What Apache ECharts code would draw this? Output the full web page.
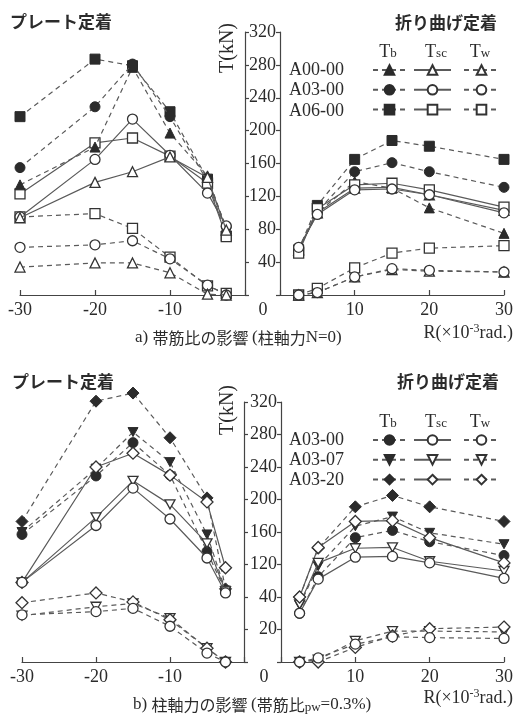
<!DOCTYPE html>
<html>
<head>
<meta charset="utf-8">
<script src="https://cdn.jsdelivr.net/npm/echarts@6/dist/echarts.min.js"></script>
<style>
  html, body { margin: 0; padding: 0; background: #fff; }
  #chart { width: 516px; height: 716px; }
</style>
</head>
<body>
<div id="chart"></div>
<script>
// R (x10^-3 rad.) for plate side (left) and bent side (right)
const rPlate = [-30, -20, -15, -10, -5, -2.5]
const rBent = [2.5, 5, 10, 15, 20, 30]

// tick labels as printed
const aYTicks = ['', '40', '80', '120', '160', '200', '240', '280', '320']
const bYTicks = ['', '20', '40', '120', '160', '200', '240', '280', '320']
const legendA = ['A00-00', 'A03-00', 'A06-00']
const legendB = ['A03-00', 'A03-07', 'A03-20']

// a) 帯筋比の影響 : plate side
const aP_A00_Tb = [134, 180, 277, 197, 145, 80]
const aP_A03_Tb = [155, 229, 281, 217, 138, 83]
const aP_A06_Tb = [217, 287, 279, 223, 141, 72]
const aP_A00_Tsc = [94, 137, 150, 168, 143, 79]
const aP_A03_Tsc = [95, 165, 214, 170, 124, 84]
const aP_A06_Tsc = [123, 185, 191, 169, 136, 71]
const aP_A00_Tw = [34, 39, 39, 27, 1, 0]
const aP_A03_Tw = [58, 61, 66, 44, 12, 0]
const aP_A06_Tw = [95, 99, 81, 46, 11, 2]
// a) bent side
const aB_A00_Tb = [55, 100, 138, 130, 106, 75]
const aB_A03_Tb = [56, 102, 150, 161, 150, 131]
const aB_A06_Tb = [55, 109, 165, 188, 181, 165]
const aB_A00_Tsc = [55, 100, 130, 131, 122, 103]
const aB_A03_Tsc = [58, 98, 128, 129, 122, 100]
const aB_A06_Tsc = [51, 105, 134, 136, 128, 107]
const aB_A00_Tw = [0, 3, 22, 31, 29, 28]
const aB_A03_Tw = [0, 3, 22, 32, 30, 28]
const aB_A06_Tw = [0, 8, 33, 51, 57, 60]

// b) 柱軸力の影響 : plate side (plotted positions on the 0-320 grid)
const bP_A00_Tb = [157, 229, 270, 230, 136, 87]
const bP_A07_Tb = [160, 238, 283, 246, 157, 88]
const bP_A20_Tb = [173, 321, 331, 276, 202, 90]
const bP_A00_Tsc = [98, 168, 214, 176, 128, 85]
const bP_A07_Tsc = [98, 178, 223, 194, 146, 87]
const bP_A20_Tsc = [98, 240, 257, 230, 197, 116]
const bP_A00_Tw = [58, 62, 66, 44, 11, 0]
const bP_A07_Tw = [57, 68, 72, 54, 17, 0]
const bP_A20_Tw = [73, 85, 74, 52, 17, 0]
// b) bent side
const bB_A00_Tb = [60, 105, 153, 162, 148, 131]
const bB_A07_Tb = [70, 118, 167, 179, 159, 145]
const bB_A20_Tb = [80, 140, 191, 205, 191, 173]
const bB_A00_Tsc = [60, 102, 129, 130, 122, 103]
const bB_A07_Tsc = [71, 122, 140, 141, 124, 112]
const bB_A20_Tsc = [80, 141, 173, 174, 153, 122]
const bB_A00_Tw = [0, 5, 22, 31, 30, 29]
const bB_A07_Tw = [0, 3, 26, 38, 38, 37]
const bB_A20_Tw = [0, 0, 18, 32, 41, 43]

const INK = '#2b2b2b'
const LINE = '#5a5a5a'
const SERIF = '"Liberation Serif", "DejaVu Serif", serif'
const JP = '"Noto Sans CJK JP", sans-serif'
const invTri = 'path://M0,0L20,0L10,18Z'

const mk = (name, xs, ys, sym, filled, dashed, gi, size, z) => ({
  name,
  type: 'line',
  xAxisIndex: gi,
  yAxisIndex: gi,
  data: xs.map((x, i) => [x, ys[i]]),
  symbol: sym,
  symbolSize: size || 10,
  symbolKeepAspect: true,
  showAllSymbol: true,
  clip: false,
  lineStyle: { color: LINE, width: 1.2, type: dashed ? [5, 4] : 'solid' },
  itemStyle: filled
    ? { color: INK, borderColor: INK, borderWidth: 1 }
    : { color: '#fff', borderColor: '#333', borderWidth: 1.3 },
  z: z,
  animation: false,
  silent: true
})

// one specimen -> Tb / Tsc / Tw on one side
const group = (label, xs, tb, tsc, tw, sym, gi, size, z) => [
  mk(label + ' Tb', xs, tb, sym, true, true, gi, size, z),
  mk(label + ' Tsc', xs, tsc, sym, false, false, gi, size, z + 1),
  mk(label + ' Tw', xs, tw, sym, false, true, gi, size, z + 1)
]

const series = [
  ...group('A00-00', rPlate, aP_A00_Tb, aP_A00_Tsc, aP_A00_Tw, 'triangle', 0, 10, 4),
  ...group('A03-00', rPlate, aP_A03_Tb, aP_A03_Tsc, aP_A03_Tw, 'circle', 0, 10, 3),
  ...group('A06-00', rPlate, aP_A06_Tb, aP_A06_Tsc, aP_A06_Tw, 'rect', 0, 10, 2),
  ...group('A00-00', rBent, aB_A00_Tb, aB_A00_Tsc, aB_A00_Tw, 'triangle', 1, 10, 2),
  ...group('A03-00', rBent, aB_A03_Tb, aB_A03_Tsc, aB_A03_Tw, 'circle', 1, 10, 3),
  ...group('A06-00', rBent, aB_A06_Tb, aB_A06_Tsc, aB_A06_Tw, 'rect', 1, 10, 2),
  ...group('b A03-00', rPlate, bP_A00_Tb, bP_A00_Tsc, bP_A00_Tw, 'circle', 2, 10, 3),
  ...group('b A03-07', rPlate, bP_A07_Tb, bP_A07_Tsc, bP_A07_Tw, invTri, 2, 10, 2),
  ...group('b A03-20', rPlate, bP_A20_Tb, bP_A20_Tsc, bP_A20_Tw, 'diamond', 2, 12, 2),
  ...group('b A03-00', rBent, bB_A00_Tb, bB_A00_Tsc, bB_A00_Tw, 'circle', 3, 10, 3),
  ...group('b A03-07', rBent, bB_A07_Tb, bB_A07_Tsc, bB_A07_Tw, invTri, 3, 10, 2),
  ...group('b A03-20', rBent, bB_A20_Tb, bB_A20_Tsc, bB_A20_Tw, 'diamond', 3, 12, 2)
]

const grids = [
  { left: 20, top: 32, width: 225, height: 263 },
  { left: 280, top: 32, width: 224, height: 263 },
  { left: 22, top: 402, width: 222, height: 260 },
  { left: 281, top: 402, width: 224, height: 260 }
]

const axisLine = { show: true, lineStyle: { color: '#444', width: 1.2 } }
const tickStyle = { color: '#444', width: 1.2 }
const tickFont = { fontFamily: SERIF, fontSize: 18, color: INK }

const xAxis = grids.map((g, i) => {
  const plate = i % 2 === 0
  return {
    type: 'value',
    gridIndex: i,
    min: plate ? -30 : 0,
    max: plate ? 0 : 30,
    interval: 10,
    axisLine,
    axisTick: { show: true, inside: true, length: 5, lineStyle: tickStyle },
    splitLine: { show: false },
    axisLabel: {
      ...tickFont,
      margin: 6,
      formatter: v => {
        if (plate) return v === 0 ? '' : String(v)
        return v === 0 ? '{z|0}' : String(v)
      },
      rich: { z: { ...tickFont, padding: [0, 34, 0, 0] } }
    }
  }
})

const yAxis = grids.map((g, i) => {
  const plate = i % 2 === 0
  const ticks = i < 2 ? aYTicks : bYTicks
  return {
    type: 'value',
    gridIndex: i,
    min: 0,
    max: 320,
    interval: 40,
    position: plate ? 'right' : 'left',
    axisLine,
    axisTick: { show: true, inside: false, length: 4, lineStyle: tickStyle },
    splitLine: { show: false },
    axisLabel: {
      show: !plate,
      ...tickFont,
      margin: 4,
      formatter: v => ticks[Math.round(v / 40)]
    }
  }
})

// legend: one column per force component, rows per specimen
const legendCol = (names, left, top, width) => ({
  data: names,
  left,
  top,
  orient: 'vertical',
  itemWidth: width,
  itemHeight: 12,
  itemGap: 8,
  padding: 0,
  formatter: () => '',
  selectedMode: false,
  textStyle: { fontSize: 1 }
})
const cols = [['Tb', 372, 33], ['Tsc', 413, 37], ['Tw', 463, 35]]
const legend = [
  ...cols.map(c => legendCol(legendA.map(n => n + ' ' + c[0]), c[1], 64, c[2])),
  ...cols.map(c => legendCol(legendB.map(n => 'b ' + n + ' ' + c[0]), c[1], 434, c[2]))
]

const txt = (text, x, y, font, align, extra) => ({
  type: 'text',
  x,
  y,
  silent: true,
  style: Object.assign({ text, font, fill: INK, align: align || 'left', verticalAlign: 'middle' }, extra || {})
})

const header = (sub, x, y) => txt('{t|T}{s|' + sub + '}', x, y, '18px ' + SERIF, 'center', {
  rich: {
    t: { font: '18px ' + SERIF, fill: INK },
    s: { font: '13px ' + SERIF, fill: INK, padding: [4, 0, 0, 0] }
  }
})

const rLabel = (y) => txt('{a|R(×10}{b|-3}{a|rad.)}', 513, y, '18px ' + SERIF, 'right', {
  rich: {
    a: { font: '18px ' + SERIF, fill: INK },
    b: { font: '12px ' + SERIF, fill: INK, padding: [0, 0, 8, 0] }
  }
})

const graphic = [
  txt('プレート定着', 10, 22, 'bold 17px ' + JP),
  txt('折り曲げ定着', 395, 23, 'bold 17px ' + JP),
  txt('プレート定着', 12, 382, 'bold 17px ' + JP),
  txt('折り曲げ定着', 397, 382, 'bold 17px ' + JP),
  Object.assign(txt('T(kN)', 228, 48, '20px ' + SERIF, 'center'), { rotation: Math.PI / 2 }),
  Object.assign(txt('T(kN)', 228, 410, '20px ' + SERIF, 'center'), { rotation: Math.PI / 2 }),
  header('b', 388, 52), header('sc', 436, 52), header('w', 480, 52),
  header('b', 388, 422), header('sc', 436, 422), header('w', 480, 422),
  ...legendA.map((n, i) => txt(n, 289, 70 + i * 20.5, '18px ' + SERIF)),
  ...legendB.map((n, i) => txt(n, 289, 440 + i * 20, '18px ' + SERIF)),
  txt('{s|a) }{j|帯筋比の影響 }{s|(}{j|柱軸力}{s|N=0)}', 135, 338, '16px ' + JP, 'left', {
    rich: {
      s: { font: '17px ' + SERIF, fill: INK },
      j: { font: '16px ' + JP, fill: INK }
    }
  }),
  txt('{s|b) }{j|柱軸力の影響 }{s|(}{j|帯筋比}{p|pw}{s|=0.3%)}', 133, 705, '16px ' + JP, 'left', {
    rich: {
      s: { font: '17px ' + SERIF, fill: INK },
      j: { font: '16px ' + JP, fill: INK },
      p: { font: '13px ' + SERIF, fill: INK, padding: [5, 0, 0, 0] }
    }
  }),
  rLabel(333),
  rLabel(698)
]

const chart = echarts.init(document.getElementById('chart'))
chart.setOption({
  backgroundColor: '#fff',
  animation: false,
  grid: grids,
  xAxis,
  yAxis,
  legend,
  graphic,
  series
})
</script>
</body>
</html>
